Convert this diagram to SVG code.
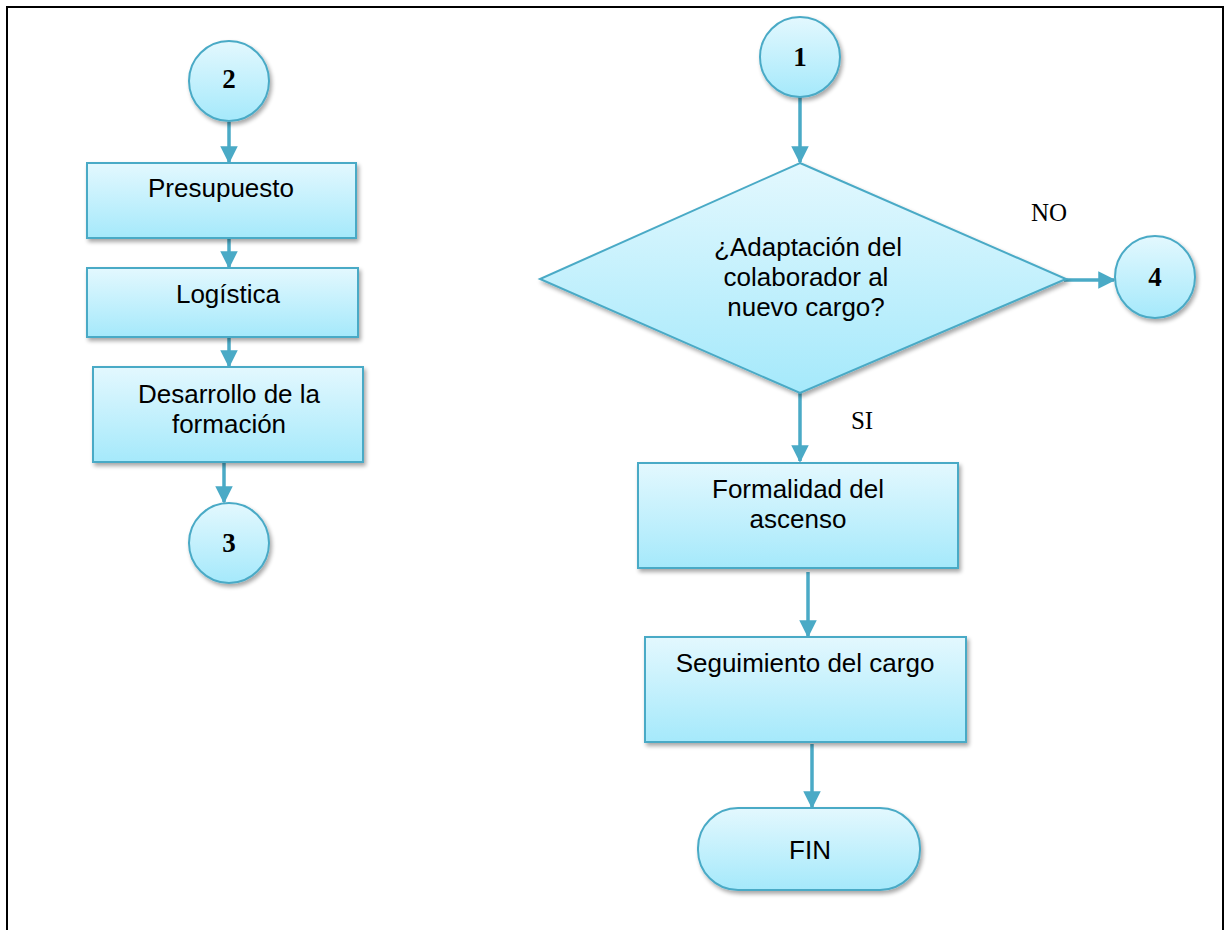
<svg xmlns="http://www.w3.org/2000/svg" width="1225" height="930" viewBox="0 0 1225 930">
  <defs>
    <linearGradient id="fillGrad" x1="0" y1="0" x2="0" y2="1">
      <stop offset="0" stop-color="#e3f8fe"/>
      <stop offset="1" stop-color="#a5e9fb"/>
    </linearGradient>
    <filter id="shadow" x="-10%" y="-10%" width="130%" height="130%">
      <feGaussianBlur in="SourceAlpha" stdDeviation="2"/>
      <feOffset dx="2" dy="3" result="b"/>
      <feComponentTransfer><feFuncA type="linear" slope="0.35"/></feComponentTransfer>
      <feMerge><feMergeNode/><feMergeNode in="SourceGraphic"/></feMerge>
    </filter>
    <marker id="arrow" viewBox="0 0 10 10" refX="9" refY="5" markerWidth="5" markerHeight="5" orient="auto" markerUnits="strokeWidth">
      <path d="M0,0 L10,5 L0,10 z" fill="#4aaac6"/>
    </marker>
    <style>
      .shape { fill: url(#fillGrad); stroke: #4aaac6; stroke-width: 2; filter: url(#shadow); }
      .conn { stroke: #4aaac6; stroke-width: 3.5; fill: none; marker-end: url(#arrow); }
      .lbl { font-family: "Liberation Sans", Arial, sans-serif; font-size: 26px; fill: #000; text-anchor: middle; }
      .num { font-family: "Liberation Serif", "Times New Roman", serif; font-size: 27px; font-weight: bold; fill: #000; text-anchor: middle; }
      .note { font-family: "Liberation Serif", "Times New Roman", serif; font-size: 25px; fill: #000; text-anchor: middle; }
    </style>
  </defs>

  <rect x="0" y="0" width="1225" height="930" fill="#ffffff"/>
  <!-- outer frame -->
  <path d="M7,935 L7,7 L1223,7 L1223,935" fill="none" stroke="#000" stroke-width="2"/>

  <!-- connectors -->
  <g id="connectors">
    <line class="conn" x1="229" y1="122" x2="229" y2="162"/>
    <line class="conn" x1="229" y1="232" x2="229" y2="267"/>
    <line class="conn" x1="229" y1="333" x2="229" y2="366"/>
    <line class="conn" x1="224" y1="462" x2="224" y2="502"/>
    <line class="conn" x1="800" y1="97" x2="800" y2="162"/>
    <line class="conn" x1="1064" y1="280" x2="1114" y2="280"/>
    <line class="conn" x1="800" y1="393" x2="800" y2="461"/>
    <line class="conn" x1="808" y1="572" x2="808" y2="636"/>
    <line class="conn" x1="812" y1="744" x2="812" y2="807"/>
  </g>

  <!-- left column -->
  <g id="node-c2">
    <circle class="shape" cx="229" cy="81" r="40"/>
    <text class="num" x="229" y="88">2</text>
  </g>
  <g id="node-presupuesto">
    <rect class="shape" x="87" y="163" width="269" height="75"/>
    <text class="lbl" x="221" y="197">Presupuesto</text>
  </g>
  <g id="node-logistica">
    <rect class="shape" x="87" y="268" width="271" height="69"/>
    <text class="lbl" x="228" y="303">Logística</text>
  </g>
  <g id="node-desarrollo">
    <rect class="shape" x="93" y="367" width="270" height="95"/>
    <text class="lbl" x="229" y="403">Desarrollo de la</text>
    <text class="lbl" x="229" y="433">formación</text>
  </g>
  <g id="node-c3">
    <circle class="shape" cx="229" cy="543" r="40"/>
    <text class="num" x="229" y="552">3</text>
  </g>

  <!-- right column -->
  <g id="node-c1">
    <circle class="shape" cx="800" cy="57" r="40"/>
    <text class="num" x="800" y="66">1</text>
  </g>
  <g id="node-decision">
    <polygon class="shape" points="800,163 1066,279 800,393 540,279"/>
    <text class="lbl" x="808" y="256">¿Adaptación del</text>
    <text class="lbl" x="806" y="286">colaborador al</text>
    <text class="lbl" x="806" y="316">nuevo cargo?</text>
  </g>
  <text class="note" x="1049" y="221">NO</text>
  <text class="note" x="862" y="429">SI</text>
  <g id="node-c4">
    <ellipse class="shape" cx="1155" cy="277" rx="40" ry="41"/>
    <text class="num" x="1155" y="286">4</text>
  </g>
  <g id="node-formalidad">
    <rect class="shape" x="638" y="463" width="320" height="105"/>
    <text class="lbl" x="798" y="498">Formalidad del</text>
    <text class="lbl" x="798" y="528">ascenso</text>
  </g>
  <g id="node-seguimiento">
    <rect class="shape" x="645" y="637" width="321" height="105"/>
    <text class="lbl" x="805" y="672">Seguimiento del cargo</text>
  </g>
  <g id="node-fin">
    <rect class="shape" x="698" y="808" width="222" height="82" rx="40" ry="40"/>
    <text class="lbl" x="810" y="859">FIN</text>
  </g>
</svg>
